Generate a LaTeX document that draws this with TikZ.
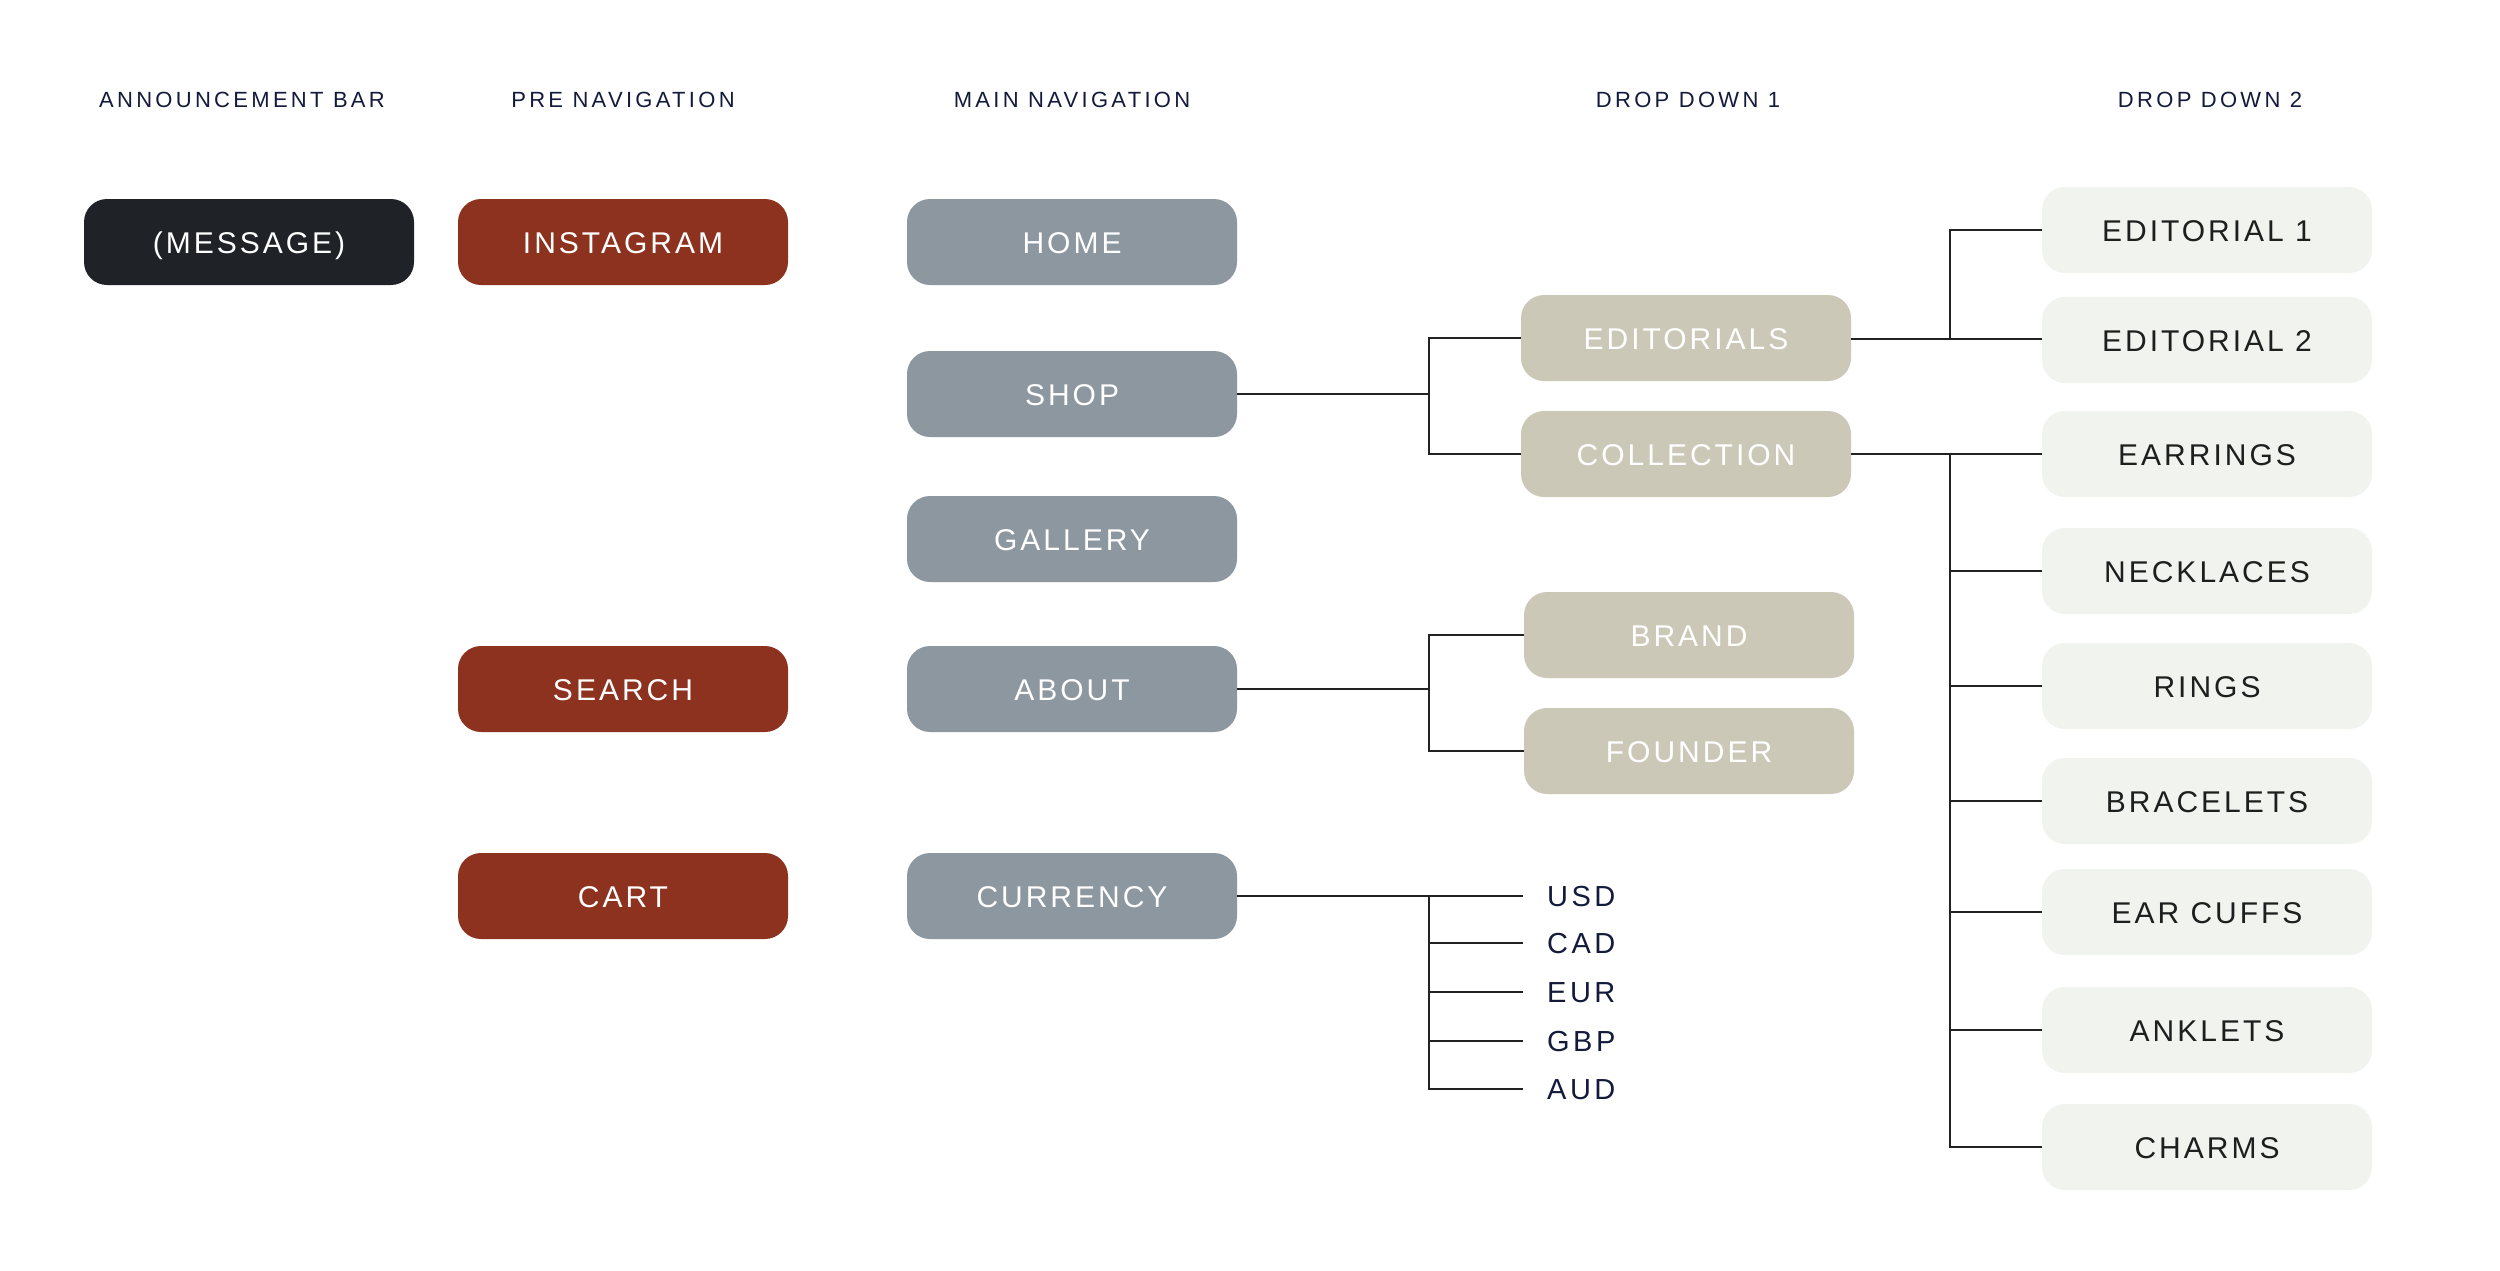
\documentclass[tikz,border=0pt]{standalone}
\usepackage{fontspec}
\setmainfont{Liberation Sans}
\newfontfamily\boxfont{Liberation Sans}[LetterSpace=10]
\newfontfamily\hdrfont{Liberation Sans}[LetterSpace=15]
\newfontfamily\curfont{Liberation Sans}[LetterSpace=12]
\definecolor{cdark}{HTML}{1F2328}
\definecolor{crust}{HTML}{8E3220}
\definecolor{cgray}{HTML}{8C97A0}
\definecolor{cbeige}{HTML}{CBC8B8}
\definecolor{clight}{HTML}{F1F3EF}
\definecolor{cnavy}{HTML}{141A3C}
\definecolor{cline}{HTML}{222222}
\definecolor{ctext}{HTML}{1E1E1E}
\tikzset{
  navbox/.style={rectangle, rounded corners=23pt, minimum width=330pt, minimum height=86pt,
    inner sep=0pt, text height=22pt, text depth=0pt,
    font=\boxfont\fontsize{30}{36}\selectfont},
  darkbox/.style={navbox, fill=cdark, text=white},
  rustbox/.style={navbox, fill=crust, text=white},
  graybox/.style={navbox, fill=cgray, text=white},
  beigebox/.style={navbox, fill=cbeige, text=white},
  lightbox/.style={navbox, fill=clight, text=ctext},
  hdr/.style={inner sep=0pt, text=cnavy, text height=16pt, text depth=0pt,
    font=\hdrfont\fontsize{22}{26}\selectfont},
  cur/.style={anchor=west, inner ysep=0pt, inner xsep=24pt, text=cnavy, text height=21pt, text depth=0pt,
    font=\curfont\fontsize{29}{34}\selectfont},
  conn/.style={draw=cline, line width=2.4pt}
}
\begin{document}
\begin{tikzpicture}[x=1pt,y=-1pt]
\useasboundingbox (0,0) rectangle (2500,1270);
\fill[white] (0,0) rectangle (2500,1270);

% headers
\node[hdr] (h1) at (242,99) {ANNOUNCEMENT BAR};
\node[hdr] (h2) at (623,99) {PRE NAVIGATION};
\node[hdr] (h3) at (1072,99) {MAIN NAVIGATION};
\node[hdr] (h4) at (1688,99) {DROP DOWN 1};
\node[hdr] (h5) at (2210,99) {DROP DOWN 2};

% column 1
\node[darkbox] (msg) at (249,242) {(MESSAGE)};

% column 2
\node[rustbox] (insta) at (623,242) {INSTAGRAM};
\node[rustbox] (search) at (623,689) {SEARCH};
\node[rustbox] (cart) at (623,896) {CART};

% column 3
\node[graybox] (home) at (1072,242) {HOME};
\node[graybox] (shop) at (1072,394) {SHOP};
\node[graybox] (gallery) at (1072,539) {GALLERY};
\node[graybox] (about) at (1072,689) {ABOUT};
\node[graybox] (currency) at (1072,896) {CURRENCY};

% column 4
\node[beigebox] (editorials) at (1686,338) {EDITORIALS};
\node[beigebox] (collection) at (1686,454) {COLLECTION};
\node[beigebox] (brand) at (1689,635) {BRAND};
\node[beigebox] (founder) at (1689,751) {FOUNDER};

% currencies
\node[cur] (usd) at (1523,896) {USD};
\node[cur] (cad) at (1523,943) {CAD};
\node[cur] (eur) at (1523,992) {EUR};
\node[cur] (gbp) at (1523,1041) {GBP};
\node[cur] (aud) at (1523,1089) {AUD};

% column 5
\node[lightbox] (ed1) at (2207,230) {EDITORIAL 1};
\node[lightbox] (ed2) at (2207,340) {EDITORIAL 2};
\node[lightbox] (earrings) at (2207,454) {EARRINGS};
\node[lightbox] (necklaces) at (2207,571) {NECKLACES};
\node[lightbox] (rings) at (2207,686) {RINGS};
\node[lightbox] (bracelets) at (2207,801) {BRACELETS};
\node[lightbox] (earcuffs) at (2207,912) {EAR CUFFS};
\node[lightbox] (anklets) at (2207,1030) {ANKLETS};
\node[lightbox] (charms) at (2207,1147) {CHARMS};

% junctions
\coordinate (sj) at (1429,394);
\coordinate (aj) at (1429,689);
\coordinate (cuj) at (1429,896);
\coordinate (ej) at (1950,339);
\coordinate (cj) at (1950,454);

% shop
\draw[conn] (shop.east) -- (sj);
\draw[conn] (editorials.west) -| (sj) |- (collection.west);

% about
\draw[conn] (about.east) -- (aj);
\draw[conn] (brand.west) -| (aj) |- (founder.west);

% currency
\draw[conn] (currency.east) -- (usd.west);
\draw[conn] (cuj) |- (cad.west);
\draw[conn] (cuj) |- (eur.west);
\draw[conn] (cuj) |- (gbp.west);
\draw[conn] (cuj) |- (aud.west);

% editorials
\draw[conn] (editorials.east |- ej) -- (ed2.west |- ej);
\draw[conn] (ed1.west) -| (ej);

% collection
\draw[conn] (collection.east) -- (earrings.west);
\draw[conn] (cj) |- (necklaces.west);
\draw[conn] (cj) |- (rings.west);
\draw[conn] (cj) |- (bracelets.west);
\draw[conn] (cj) |- (earcuffs.west);
\draw[conn] (cj) |- (anklets.west);
\draw[conn] (cj) |- (charms.west);
\end{tikzpicture}
\end{document}
